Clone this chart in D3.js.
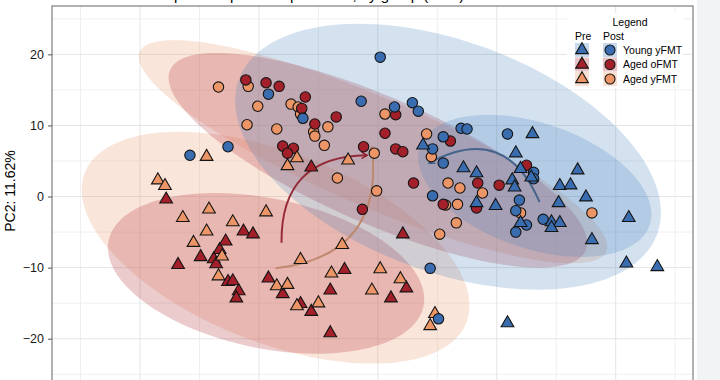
<!DOCTYPE html>
<html>
<head>
<meta charset="utf-8">
<script src="https://cdn.jsdelivr.net/npm/d3@7"></script>
<style>
  body { margin: 0; background: #fff; }
  svg { display: block; font-family: "Liberation Sans", Arial, sans-serif; }
</style>
</head>
<body>
<script>
// groups, in legend order
const groups = ["Young yFMT", "Aged oFMT", "Aged yFMT"];
const pointColors = ["#3a6db0", "#a3202b", "#ec9566"];
const fillColors = ["#4682bf", "#b5363d", "#eb9a70"];
const arrowColors = ["#3b5d87", "#8e1c2c", "#bb8468"];

const yTicks = [-20, -10, 0, 10, 20];

// PCA scores [PC1, PC2]
const youngPre = [[13.0, 8.8], [3.8, 7.2], [11.6, 6.1], [7.2, 4.0], [8.3, 3.3],
  [12.0, 3.9], [12.9, 2.7], [16.8, 3.7], [11.3, 2.3], [11.5, 1.3], [15.3, 1.5],
  [16.2, 1.6], [17.5, -0.1], [8.3, -0.9], [9.9, -1.3], [15.2, -0.9], [12.0, -3.7],
  [14.6, -3.6], [15.3, -3.7], [14.6, -4.4], [21.1, -3.0], [18.0, -6.1],
  [20.9, -9.4], [23.5, -9.9], [10.9, -17.8]];
const youngPost = [[0.2, 19.6], [-15.8, 5.8], [-12.6, 7.0], [-9.2, 14.4],
  [-6.3, 11.0], [-1.4, 13.4], [1.4, 12.6], [2.9, 13.2], [3.4, 12.0], [7.0, 9.6],
  [7.5, 9.5], [10.9, 8.8], [5.5, 8.4], [4.6, 6.7], [5.5, 4.7], [13.1, 3.4],
  [13.1, 2.5], [4.6, 0.1], [11.9, -0.5], [11.6, -2.0], [12.5, -4.0], [11.6, -5.0],
  [13.9, -3.2], [4.4, -10.1], [5.1, -17.2]];
const agedOPre = [[-5.6, 4.1], [-17.8, -0.4], [-16.8, -9.6], [-14.9, -8.5],
  [-13.8, -8.8], [-13.6, -9.5], [-13.3, -7.5], [-12.8, -6.3], [-11.3, -4.9],
  [-10.5, -5.3], [-12.6, -12.0], [-12.2, -11.9], [-11.7, -13.3], [-11.9, -14.3],
  [-9.2, -11.5], [-8.0, -13.7], [-6.5, -15.1], [-5.6, -16.2], [-4.0, -13.2],
  [-2.8, -10.3], [-4.0, -19.2], [2.1, -5.3], [1.1, -14.3], [2.4, -12.9]];
const agedOPost = [[-11.1, 16.4], [-9.4, 16.0], [-8.3, 15.5], [-6.1, 14.0],
  [-6.4, 12.4], [-5.3, 10.2], [-3.5, 11.2], [-8.0, 7.1], [-7.1, 6.8], [-7.6, 6.1],
  [1.5, 11.5], [0.6, 8.9], [-1.2, 7.0], [1.5, 6.7], [2.1, 6.3], [6.1, 7.8],
  [3.0, 1.9], [8.4, 1.9], [10.2, 1.6], [12.5, 4.4], [5.5, -1.1], [8.3, -1.6],
  [-1.3, -1.8]];
const agedYPre = [[-14.4, 5.6], [-18.5, 2.3], [-17.9, 1.5], [-7.6, 4.3],
  [-6.8, 5.4], [-2.5, 5.1], [-16.4, -3.0], [-14.2, -1.8], [-14.4, -4.9],
  [-15.5, -6.5], [-12.2, -3.6], [-9.4, -2.2], [-13.1, -8.4], [-13.4, -11.2],
  [-6.5, -8.9], [-3.0, -6.8], [-3.9, -10.8], [-8.5, -12.6], [-7.6, -12.4],
  [-6.8, -15.4], [-5.0, -15.0], [0.2, -10.2], [-0.5, -13.2], [1.9, -11.6],
  [4.8, -16.5], [4.4, -18.2]];
const agedYPost = [[-13.4, 15.4], [-10.9, 15.5], [-10.1, 12.7], [-7.3, 13.0],
  [-6.7, 12.6], [-6.5, 11.6], [-11.0, 10.1], [-8.5, 9.5], [-5.4, 9.1], [-5.3, 8.5],
  [-4.2, 9.8], [-4.5, 7.2], [-3.4, 2.6], [0.6, 11.6], [-0.3, 6.1], [4.1, 8.8],
  [4.5, 5.6], [5.9, 1.9], [6.9, 1.2], [8.8, 0.5], [5.7, -1.2], [6.7, -1.1],
  [6.6, -3.7], [5.2, -5.3], [12.0, -2.3], [18.0, -2.3], [-0.1, 0.8]];

// confidence ellipses: [centre PC1, centre PC2, half width, half height, correlation]
const ellipsePre = [[13.2, 1.5, 9.8, 10.0, -0.4], [-9.4, -10.8, 13.3, 11.3, -0.32],
  [-8.6, -7.2, 16.3, 16.3, -0.5]];
const ellipsePost = [[5.9, 5.6, 17.9, 18.7, -0.42], [0.0, 5.1, 17.6, 15.1, -0.77],
  [-0.4, 6.3, 19.7, 15.7, -0.85]];

// pre -> post shift arrows
const arrowFrom = [[13.6, -0.8], [-8.1, -6.5], [-8.6, -10.1]];
const arrowTo = [[4.3, 4.7], [-0.9, 5.8], [-0.5, 7.0]];
const arrowBend = [-0.55, 0.5, -0.5];

// svg size and panel edges
var w = 720;
var h = 380;
var panelLeft = 52;
var panelRight = 693;
var panelTop = 6;
var panelBottom = 388.5;

var x = d3.scaleLinear().domain([-27.4, 26.5]).range([panelLeft, panelRight]);
var y = d3.scaleLinear().domain([-27, 26.8]).range([panelBottom, panelTop]);

var svg = d3.select("body")
            .append("svg")
            .attr("width", w)
            .attr("height", h);

// grey page strip on the right
svg.append("rect")
   .attr("x", 697).attr("y", 0)
   .attr("width", w - 697).attr("height", h)
   .attr("fill", "#f2f3f5");

// title, mostly cut off at the top
svg.append("text")
   .attr("x", 64).attr("y", 0)
   .attr("font-size", 15)
   .text("Microbiome composition pre- and post-FMT, by group (PCA)");

svg.append("clipPath")
   .attr("id", "panel")
   .append("rect")
   .attr("x", panelLeft).attr("y", panelTop)
   .attr("width", panelRight - panelLeft).attr("height", panelBottom - panelTop);

var panel = svg.append("g").attr("clip-path", "url(#panel)");

// grid
d3.range(-25, 26, 5).forEach(function(v) {
  panel.append("line")
       .attr("x1", x(v)).attr("x2", x(v))
       .attr("y1", panelTop).attr("y2", panelBottom)
       .attr("stroke", v % 10 === 0 ? "#e4e4e4" : "#efefef")
       .attr("stroke-width", 1);
  panel.append("line")
       .attr("x1", panelLeft).attr("x2", panelRight)
       .attr("y1", y(v)).attr("y2", y(v))
       .attr("stroke", v % 10 === 0 ? "#e4e4e4" : "#efefef")
       .attr("stroke-width", 1);
});

function ellipsePath(e) {
  // x = cx + hx cos t, y = cy + hy cos(t + phi), corr = cos(phi)
  var phi = Math.acos(e[4]);
  var pts = d3.range(0, 2 * Math.PI, Math.PI / 72).map(function(t) {
    return [x(e[0] + e[2] * Math.cos(t)), y(e[1] + e[3] * Math.cos(t + phi))];
  });
  return d3.line().curve(d3.curveLinearClosed)(pts);
}

// ellipses, aged groups first so the blue ones lie on top
[2, 1, 0].forEach(function(g) {
  [ellipsePre[g], ellipsePost[g]].forEach(function(e) {
    panel.append("path")
         .attr("d", ellipsePath(e))
         .attr("fill", fillColors[g])
         .attr("fill-opacity", g === 0 ? 0.23 : 0.26)
         .attr("stroke", "none");
  });
});

// arrow heads
var defs = svg.append("defs");
arrowColors.forEach(function(c, i) {
  defs.append("marker")
      .attr("id", "head" + i)
      .attr("viewBox", "0 0 10 10")
      .attr("refX", 8).attr("refY", 5)
      .attr("markerWidth", 8).attr("markerHeight", 8)
      .attr("markerUnits", "userSpaceOnUse")
      .attr("orient", "auto")
      .append("path")
      .attr("d", "M1,1 L8,5 L1,9")
      .attr("fill", "none")
      .attr("stroke", c)
      .attr("stroke-width", 1.8);
});

// curved shift arrows
[1, 2, 0].forEach(function(g) {
  var x0 = x(arrowFrom[g][0]), y0 = y(arrowFrom[g][1]);
  var x1 = x(arrowTo[g][0]), y1 = y(arrowTo[g][1]);
  var dx = x1 - x0, dy = y1 - y0;
  var cx = (x0 + x1) / 2 + arrowBend[g] * dy;
  var cy = (y0 + y1) / 2 - arrowBend[g] * dx;
  panel.append("path")
       .attr("d", "M" + x0 + "," + y0 + " Q" + cx + "," + cy + " " + x1 + "," + y1)
       .attr("fill", "none")
       .attr("stroke", arrowColors[g])
       .attr("stroke-width", 2)
       .attr("stroke-opacity", 0.9)
       .attr("marker-end", "url(#head" + g + ")");
});

// points
var triangle = d3.symbol().type(d3.symbolTriangle).size(70);
function drawPoints(data, g, pre) {
  data.forEach(function(d) {
    if (pre) {
      panel.append("path")
           .attr("d", triangle())
           .attr("transform", "translate(" + x(d[0]) + "," + y(d[1]) + ")")
           .attr("fill", pointColors[g])
           .attr("stroke", "#141414")
           .attr("stroke-width", 1.1);
    } else {
      panel.append("circle")
           .attr("cx", x(d[0])).attr("cy", y(d[1]))
           .attr("r", 5.2)
           .attr("fill", pointColors[g])
           .attr("stroke", "#141414")
           .attr("stroke-width", 1.1);
    }
  });
}
drawPoints(agedYPost, 2, false);
drawPoints(agedOPost, 1, false);
drawPoints(agedOPre, 1, true);
drawPoints(agedYPre, 2, true);
drawPoints(youngPost, 0, false);
drawPoints(youngPre, 0, true);

// legend
svg.append("rect")
   .attr("x", 567).attr("y", 13)
   .attr("width", 116).attr("height", 75)
   .attr("fill", "#fff");
svg.append("text")
   .attr("x", 630).attr("y", 26)
   .attr("text-anchor", "middle")
   .attr("font-size", 10.5)
   .text("Legend");
svg.append("text").attr("x", 575).attr("y", 40).attr("font-size", 10.5).text("Pre");
svg.append("text").attr("x", 603).attr("y", 40).attr("font-size", 10.5).text("Post");
groups.forEach(function(name, g) {
  var ry = 50 + g * 14.5;
  [582, 610].forEach(function(kx) {
    svg.append("rect")
       .attr("x", kx - 7).attr("y", ry - 7)
       .attr("width", 14).attr("height", 14)
       .attr("fill", fillColors[g])
       .attr("fill-opacity", 0.3);
  });
  svg.append("path")
     .attr("d", triangle())
     .attr("transform", "translate(582," + ry + ")")
     .attr("fill", pointColors[g])
     .attr("stroke", "#141414")
     .attr("stroke-width", 1.1);
  svg.append("circle")
     .attr("cx", 610).attr("cy", ry)
     .attr("r", 5)
     .attr("fill", pointColors[g])
     .attr("stroke", "#141414")
     .attr("stroke-width", 1.1);
  svg.append("text")
     .attr("x", 623).attr("y", ry)
     .attr("dy", "0.35em")
     .attr("font-size", 10.5)
     .text(name);
});

// panel border
svg.append("rect")
   .attr("x", panelLeft).attr("y", panelTop)
   .attr("width", panelRight - panelLeft).attr("height", panelBottom - panelTop)
   .attr("fill", "none")
   .attr("stroke", "#7d7d7d")
   .attr("stroke-width", 1.2);

// y axis ticks
var yAxis = svg.append("g")
   .attr("transform", "translate(" + panelLeft + ",0)")
   .call(d3.axisLeft(y).tickValues(yTicks).tickSize(4).tickPadding(4));
yAxis.select(".domain").remove();
yAxis.selectAll("line").attr("stroke", "#555");
yAxis.selectAll("text")
     .attr("font-size", 12.5)
     .attr("font-family", "Liberation Sans, Arial, sans-serif")
     .attr("fill", "#1a1a1a");

// y axis label
svg.append("text")
   .attr("transform", "translate(15,191) rotate(-90)")
   .attr("text-anchor", "middle")
   .attr("font-size", 14)
   .text("PC2: 11.62%");
</script>
</body>
</html>
